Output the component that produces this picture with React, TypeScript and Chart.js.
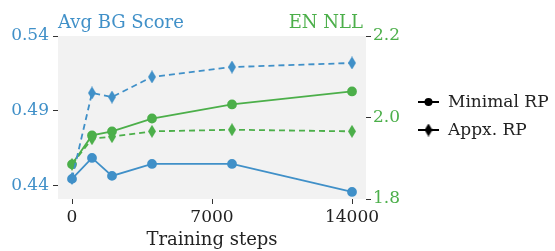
import React, { useEffect, useRef } from "react";
import { Chart, registerables } from "chart.js";

Chart.register(...registerables);

const steps = [0, 1000, 2000, 4000, 8000, 14000];
const bgMinimal = [0.4447, 0.4587, 0.4467, 0.4547, 0.4547, 0.436];
const bgAppx = [0.445, 0.502, 0.4993, 0.5127, 0.5193, 0.522];
const nllMinimal = [1.885, 1.956, 1.966, 1.9975, 2.032, 2.064];
const nllAppx = [1.885, 1.948, 1.953, 1.966, 1.97, 1.966];
const xTicks = [0, 7000, 14000];
const leftTicks = [0.44, 0.49, 0.54];
const rightTicks = [1.8, 2.0, 2.2];
const seriesNames = ["Minimal RP", "Appx. RP"];
const leftTitle = "Avg BG Score";
const rightTitle = "EN NLL";
const xTitle = "Training steps";

const BLUE = "#4090c8";
const GREEN = "#4caf4a";
const FONT = "'DejaVu Serif', serif";

function thinDiamond(color: string) {
  const c = document.createElement("canvas");
  c.width = 8;
  c.height = 13;
  const ctx = c.getContext("2d")!;
  ctx.fillStyle = color;
  ctx.beginPath();
  ctx.moveTo(4, 0);
  ctx.lineTo(8, 6.5);
  ctx.lineTo(4, 13);
  ctx.lineTo(0, 6.5);
  ctx.closePath();
  ctx.fill();
  return c;
}

export default function App() {
  const ref = useRef<HTMLCanvasElement>(null);
  useEffect(() => {
    document.body.style.margin = "0";
    let chart: Chart | null = null;
    let cancelled = false;
    const pts = (ys: number[]) => steps.map((x, i) => ({ x, y: ys[i] }));
    const blueD = thinDiamond(BLUE);
    const greenD = thinDiamond(GREEN);
    const blackD = thinDiamond("#000");

    const decor = {
      id: "decor",
      beforeDraw(c: any) {
        const { ctx, chartArea: a } = c;
        ctx.save();
        ctx.fillStyle = "#f2f2f2";
        ctx.fillRect(a.left, a.top, a.right - a.left, a.bottom - a.top);
        ctx.restore();
      },
      afterDraw(c: any) {
        const { ctx, chartArea: a } = c;
        ctx.save();
        ctx.font = `18px ${FONT}`;
        ctx.textBaseline = "alphabetic";
        ctx.fillStyle = BLUE;
        ctx.textAlign = "left";
        ctx.fillText(leftTitle, a.left, 28);
        ctx.fillStyle = GREEN;
        ctx.textAlign = "right";
        ctx.fillText(rightTitle, a.right - 3, 28);
        ctx.fillStyle = "#222";
        ctx.textAlign = "center";
        ctx.fillText(xTitle, (a.left + a.right) / 2, 245);
        ctx.font = `17px ${FONT}`;
        const lx0 = 418, lx1 = 439, tx = 448;
        const rows = [102, 130];
        ctx.strokeStyle = "#000";
        ctx.lineWidth = 2;
        rows.forEach((y, i) => {
          ctx.fillStyle = "#000";
          ctx.beginPath();
          ctx.moveTo(lx0, y);
          ctx.lineTo(lx1, y);
          ctx.stroke();
          if (i === 0) {
            ctx.beginPath();
            ctx.arc((lx0 + lx1) / 2, y, 4, 0, Math.PI * 2);
            ctx.fill();
          } else {
            ctx.drawImage(blackD, (lx0 + lx1) / 2 - 4, y - 6.5);
          }
          ctx.textAlign = "left";
          ctx.textBaseline = "middle";
          ctx.fillStyle = "#222";
          ctx.fillText(seriesNames[i], tx, y + 1);
        });
        ctx.restore();
      },
    };

    const build = () => {
      if (cancelled || !ref.current) return;
      const common = { borderWidth: 1.8, pointRadius: 4, pointHoverRadius: 4 };
      chart = new Chart(ref.current, {
        type: "line",
        data: {
          datasets: [
            { ...common, label: "bg-appx", data: pts(bgAppx), yAxisID: "y", borderColor: BLUE, backgroundColor: BLUE, borderDash: [6, 4], pointStyle: blueD as any },
            { ...common, label: "nll-appx", data: pts(nllAppx), yAxisID: "y1", borderColor: GREEN, backgroundColor: GREEN, borderDash: [6, 4], pointStyle: greenD as any },
            { ...common, label: "bg-min", data: pts(bgMinimal), yAxisID: "y", borderColor: BLUE, backgroundColor: BLUE, pointStyle: "circle" },
            { ...common, label: "nll-min", data: pts(nllMinimal), yAxisID: "y1", borderColor: GREEN, backgroundColor: GREEN, pointStyle: "circle" },
          ],
        },
        options: {
          animation: false,
          responsive: false,
          maintainAspectRatio: false,
          layout: { padding: { top: 36, right: 129, left: 0, bottom: 0 } },
          plugins: { legend: { display: false }, tooltip: { enabled: false } },
          scales: {
            x: {
              type: "linear",
              min: -700,
              max: 14700,
              afterBuildTicks: (s: any) => { s.ticks = xTicks.map((v) => ({ value: v })); },
              afterFit: (s: any) => { s.height = 52; },
              grid: { drawOnChartArea: false, drawTicks: true, tickLength: 5, tickColor: "#333", lineWidth: 1 },
              border: { display: false },
              ticks: { color: "#222", font: { family: FONT, size: 17 }, padding: 3, maxRotation: 0, callback: (v: any) => String(v) },
            },
            y: {
              type: "linear",
              position: "left",
              min: 0.4313,
              max: 0.54,
              afterBuildTicks: (s: any) => { s.ticks = leftTicks.map((v) => ({ value: v })); },
              afterFit: (s: any) => { s.width = 58; },
              grid: { drawOnChartArea: false, drawTicks: true, tickLength: 5, tickColor: "#333" },
              border: { display: false },
              ticks: { color: BLUE, font: { family: FONT, size: 17 }, padding: 4, callback: (v: any) => Number(v).toFixed(2) },
            },
            y1: {
              type: "linear",
              position: "right",
              min: 1.8,
              max: 2.2,
              afterBuildTicks: (s: any) => { s.ticks = rightTicks.map((v) => ({ value: v })); },
              afterFit: (s: any) => { s.width = 60; },
              grid: { drawOnChartArea: false, drawTicks: true, tickLength: 5, tickColor: "#333" },
              border: { display: false },
              ticks: { color: GREEN, font: { family: FONT, size: 17 }, padding: 2, callback: (v: any) => Number(v).toFixed(1) },
            },
          },
        },
        plugins: [decor],
      });
    };

    const fonts: any = (document as any).fonts;
    if (fonts && fonts.load) {
      fonts.load(`17px ${FONT}`).then(build, build);
    } else {
      build();
    }
    return () => {
      cancelled = true;
      if (chart) chart.destroy();
    };
  }, []);
  return (
    <div style={{ width: 555, height: 251 }}>
      <canvas ref={ref} width={555} height={251} style={{ display: "block" }} />
    </div>
  );
}
